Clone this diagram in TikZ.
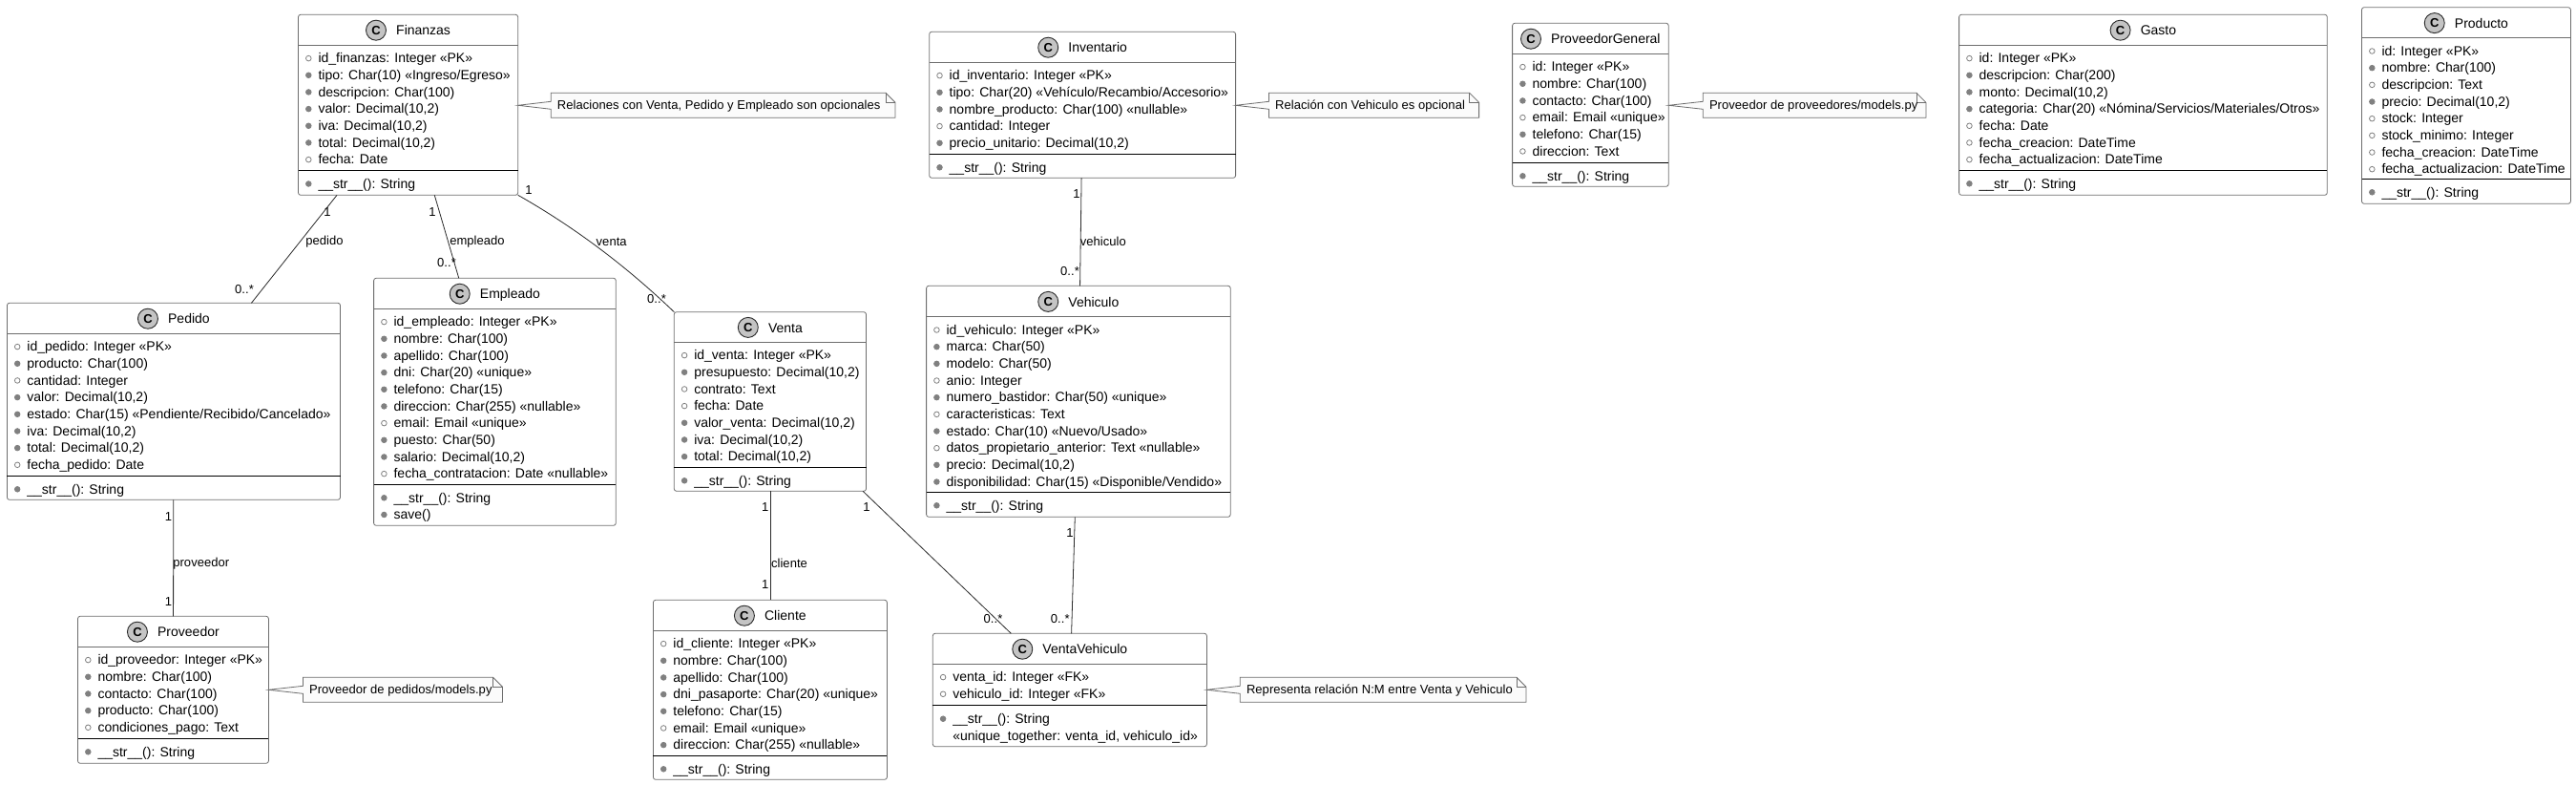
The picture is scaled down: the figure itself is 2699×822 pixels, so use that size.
\documentclass[tikz,border=0pt]{standalone}
\usepackage{fontspec}
\setmainfont{Liberation Sans}
\newfontfamily\notefont[LetterSpace=0.4]{Liberation Sans}
\definecolor{boxline}{HTML}{6E6E6E}
\definecolor{notefill}{HTML}{FBFBFB}
\definecolor{spotfill}{HTML}{C4C4C4}
\definecolor{bulletgray}{HTML}{808080}
\definecolor{inkline}{HTML}{2A2A2A}
\newcounter{umlrow}
\newcommand{\umlname}{}
\newcommand{\umlleft}{0}
\newcommand{\umlright}{0}
\newcommand{\umlnexty}{0}
% \umlclass{name}{x0}{y0}{x1}{y1}{header bottom}{member separator}{title}
\newcommand{\umlclass}[8]{%
  \setcounter{umlrow}{0}%
  \renewcommand{\umlname}{#1}%
  \renewcommand{\umlleft}{#2}%
  \renewcommand{\umlright}{#4}%
  \pgfmathsetmacro{\umlcx}{(#2+#4)/2}%
  \pgfmathsetmacro{\umlcy}{(#3+#5)/2}%
  \pgfmathsetmacro{\umlw}{#4-#2}%
  \pgfmathsetmacro{\umlh}{#5-#3}%
  \node[classbox,minimum width=\umlw pt,minimum height=\umlh pt] (#1) at (\umlcx,\umlcy) {};%
  \draw[headline] (#2,#6) -- (#4,#6);%
  \draw[sepline] (#2,#7) -- (#4,#7);%
  \pgfmathsetmacro{\umlsy}{(#3+#6)/2+0.4}%
  \node[classtitle] (#1-title) at ({\umlcx+16},{\umlsy+5.2}) {#8};%
  \node[spot,xshift=-21pt] (#1-spot) at (#1-title.base west |- 0,\umlsy) {C};%
  \pgfmathsetmacro{\umlnexty}{#6+13.8}%
  \xdef\umlnexty{\umlnexty}%
  \xdef\umlsep{#7}%
}
\newcommand{\umlmethods}{\pgfmathsetmacro{\umlnexty}{\umlsep+14}\xdef\umlnexty{\umlnexty}}
% \umlrowitem{kind}{text}: kind o = open, f = filled, n = none
\newcommand{\umlrowitem}[2]{%
  \stepcounter{umlrow}%
  \pgfmathsetmacro{\umlbx}{\umlleft+10.8}%
  \pgfmathsetmacro{\umltx}{\umlleft+20.8}%
  \if#1o\node[openbullet] (\umlname-b\theumlrow) at (\umlbx,\umlnexty) {};\fi
  \if#1f\node[fullbullet] (\umlname-b\theumlrow) at (\umlbx,\umlnexty) {};\fi
  \node[rowtext] (\umlname-r\theumlrow) at (\umltx,{\umlnexty+4.7}) {#2};%
  \pgfmathsetmacro{\umlnexty}{\umlnexty+17.67}%
  \xdef\umlnexty{\umlnexty}%
}
\newcommand{\ro}[1]{\umlrowitem{o}{#1}}
\newcommand{\rf}[1]{\umlrowitem{f}{#1}}
\newcommand{\us}{\_\kern0pt}
% \umlnote{name}{x0}{y0}{x1}{y1}{target coordinate}{text}
\newcommand{\umlnote}[7]{%
  \pgfmathsetmacro{\umlcx}{(#2+#4)/2}%
  \pgfmathsetmacro{\umlcy}{(#3+#5)/2}%
  \pgfmathsetmacro{\umlw}{#4-#2}%
  \pgfmathsetmacro{\umlh}{#5-#3}%
  \node[noteframe,minimum width=\umlw pt,minimum height=\umlh pt] (#1) at (\umlcx,\umlcy) {};%
  \draw[noteline] (#6) -- (#2,\umlcy-4) -- (#1.north west) -- (#4-10,#3) -- (#4,#3+10) -- (#1.south east) -- (#1.south west) -- (#2,\umlcy+4) -- cycle;%
  \draw[noteline,fill=none] (#4-10,#3) -- (#4-10,#3+10) -- (#4,#3+10);%
  \node[notetext] (#1-text) at ({#2+6.5},{\umlcy+4.3}) {#7};%
}
\newcommand{\titlefont}{\fontsize{14}{14}\selectfont}
\tikzset{
  classbox/.style={draw=boxline,fill=white,line width=0.8pt,rounded corners=2.5pt,inner sep=0pt,outer sep=0pt},
  headline/.style={draw=boxline,line width=0.8pt},
  sepline/.style={draw=black,line width=1pt},
  spot/.style={circle,draw=inkline,fill=spotfill,line width=0.9pt,minimum size=21pt,inner sep=0pt,font=\fontsize{13}{13}\selectfont\bfseries,text=black},
  classtitle/.style={anchor=base,inner sep=0pt,font=\titlefont,text=black},
  rowtext/.style={anchor=base west,inner sep=0pt,font=\fontsize{14}{14}\selectfont,text=black},
  openbullet/.style={circle,draw=bulletgray,fill=white,line width=0.8pt,minimum size=5.6pt,inner sep=0pt},
  fullbullet/.style={circle,draw=bulletgray,fill=bulletgray,line width=0.8pt,minimum size=5.6pt,inner sep=0pt},
  noteframe/.style={inner sep=0pt,outer sep=0pt},
  noteline/.style={draw=boxline,fill=notefill,line width=0.8pt,line join=miter},
  notetext/.style={anchor=base west,inner sep=0pt,font=\notefont\fontsize{13}{13}\selectfont,text=black},
  assoc/.style={draw=inkline,line width=0.8pt},
  lab/.style={inner sep=0pt,font=\notefont\fontsize{13}{13}\selectfont,text=black},
}
\begin{document}
\begin{tikzpicture}[x=1pt,y=-1pt]
\fill[white] (0,0) rectangle (2699,822);
\useasboundingbox (0,0) rectangle (2699,822);

\umlclass{fin}{312.5}{15.3}{542.7}{204.3}{47.3}{178.5}{Finanzas}
\ro{id\us finanzas: Integer «PK»}
\rf{tipo: Char(10) «Ingreso/Egreso»}
\rf{descripcion: Char(100)}
\rf{valor: Decimal(10,2)}
\rf{iva: Decimal(10,2)}
\rf{total: Decimal(10,2)}
\ro{fecha: Date}
\umlmethods
\rf{\us\us str\us\us (): String}

\umlclass{emp}{391.6}{291.3}{645.3}{550.3}{323.3}{507.3}{Empleado}
\ro{id\us empleado: Integer «PK»}
\rf{nombre: Char(100)}
\rf{apellido: Char(100)}
\rf{dni: Char(20) «unique»}
\rf{telefono: Char(15)}
\rf{direccion: Char(255) «nullable»}
\ro{email: Email «unique»}
\rf{puesto: Char(50)}
\rf{salario: Decimal(10,2)}
\ro{fecha\us contratacion: Date «nullable»}
\umlmethods
\rf{\us\us str\us\us (): String}
\rf{save()}

\umlclass{ped}{7.4}{317.3}{356.5}{523.3}{349.3}{498.3}{Pedido}
\ro{id\us pedido: Integer «PK»}
\rf{producto: Char(100)}
\ro{cantidad: Integer}
\rf{valor: Decimal(10,2)}
\rf{estado: Char(15) «Pendiente/Recibido/Cancelado»}
\rf{iva: Decimal(10,2)}
\rf{total: Decimal(10,2)}
\ro{fecha\us pedido: Date}
\umlmethods
\rf{\us\us str\us\us (): String}

\umlclass{prv}{81.5}{645.3}{281.4}{799.3}{677.3}{773.3}{Proveedor}
\ro{id\us proveedor: Integer «PK»}
\rf{nombre: Char(100)}
\rf{contacto: Char(100)}
\rf{producto: Char(100)}
\ro{condiciones\us pago: Text}
\umlmethods
\rf{\us\us str\us\us (): String}

\umlclass{ven}{706.3}{326.7}{907.5}{514.3}{358.3}{489.3}{Venta}
\ro{id\us venta: Integer «PK»}
\rf{presupuesto: Decimal(10,2)}
\ro{contrato: Text}
\ro{fecha: Date}
\rf{valor\us venta: Decimal(10,2)}
\rf{iva: Decimal(10,2)}
\rf{total: Decimal(10,2)}
\umlmethods
\rf{\us\us str\us\us (): String}

\umlclass{cli}{684.4}{628.3}{929.4}{816.3}{660.3}{791.3}{Cliente}
\ro{id\us cliente: Integer «PK»}
\rf{nombre: Char(100)}
\rf{apellido: Char(100)}
\rf{dni\us pasaporte: Char(20) «unique»}
\rf{telefono: Char(15)}
\ro{email: Email «unique»}
\rf{direccion: Char(255) «nullable»}
\umlmethods
\rf{\us\us str\us\us (): String}

\umlclass{veh}{970.6}{299.3}{1289.2}{541.3}{331.7}{515.3}{Vehiculo}
\ro{id\us vehiculo: Integer «PK»}
\rf{marca: Char(50)}
\rf{modelo: Char(50)}
\ro{anio: Integer}
\rf{numero\us bastidor: Char(50) «unique»}
\ro{caracteristicas: Text}
\rf{estado: Char(10) «Nuevo/Usado»}
\ro{datos\us propietario\us anterior: Text «nullable»}
\rf{precio: Decimal(10,2)}
\rf{disponibilidad: Char(15) «Disponible/Vendido»}
\umlmethods
\rf{\us\us str\us\us (): String}

\umlclass{vv}{977.3}{663.3}{1264.4}{781.7}{695.3}{738.7}{VentaVehiculo}
\ro{venta\us id: Integer «FK»}
\ro{vehiculo\us id: Integer «FK»}
\umlmethods
\rf{\us\us str\us\us (): String}
\umlrowitem{n}{«unique\us together: venta\us id, vehiculo\us id»}

\umlclass{inv}{973.7}{33.3}{1294.6}{186.3}{65.3}{161.3}{Inventario}
\ro{id\us inventario: Integer «PK»}
\rf{tipo: Char(20) «Vehículo/Recambio/Accesorio»}
\rf{nombre\us producto: Char(100) «nullable»}
\ro{cantidad: Integer}
\rf{precio\us unitario: Decimal(10,2)}
\umlmethods
\rf{\us\us str\us\us (): String}

\umlclass{pg}{1584.6}{24.3}{1748.2}{195.3}{56.3}{170.3}{ProveedorGeneral}
\ro{id: Integer «PK»}
\rf{nombre: Char(100)}
\rf{contacto: Char(100)}
\ro{email: Email «unique»}
\rf{telefono: Char(15)}
\ro{direccion: Text}
\umlmethods
\rf{\us\us str\us\us (): String}

\umlclass{gas}{2052.6}{15.3}{2438.3}{204.3}{47.3}{178.3}{Gasto}
\ro{id: Integer «PK»}
\rf{descripcion: Char(200)}
\rf{monto: Decimal(10,2)}
\rf{categoria: Char(20) «Nómina/Servicios/Materiales/Otros»}
\ro{fecha: Date}
\ro{fecha\us creacion: DateTime}
\ro{fecha\us actualizacion: DateTime}
\umlmethods
\rf{\us\us str\us\us (): String}

\umlclass{pro}{2474.5}{7.7}{2693.4}{213.3}{39.7}{187.3}{Producto}
\ro{id: Integer «PK»}
\rf{nombre: Char(100)}
\ro{descripcion: Text}
\rf{precio: Decimal(10,2)}
\ro{stock: Integer}
\ro{stock\us minimo: Integer}
\ro{fecha\us creacion: DateTime}
\ro{fecha\us actualizacion: DateTime}
\umlmethods
\rf{\us\us str\us\us (): String}

% notes, each wedge pointing at the east side of its class
\coordinate (fin-tip) at (fin.east |- 0,110.3);
\coordinate (inv-tip) at (inv.east |- 0,110.3);
\coordinate (pg-tip) at (pg.east |- 0,110.3);
\coordinate (prv-tip) at (prv.east |- 0,722.3);
\coordinate (vv-tip) at (vv.east |- 0,722.3);
\umlnote{nfin}{577.2}{97.3}{938}{123.3}{fin-tip}{Relaciones con Venta, Pedido y Empleado son opcionales}
\umlnote{ninv}{1329.5}{97.3}{1549.6}{123.3}{inv-tip}{Relación con Vehiculo es opcional}
\umlnote{npg}{1784.3}{97.3}{2017.9}{123.3}{pg-tip}{Proveedor de proveedores/models.py}
\umlnote{nprv}{317.4}{709.3}{526.5}{735.3}{prv-tip}{Proveedor de pedidos/models.py}
\umlnote{nvv}{1299.3}{709.3}{1599}{735.3}{vv-tip}{Representa relación N:M entre Venta y Vehiculo}

% associations
\draw[assoc] (fin) -- (ped);
\draw[assoc] (fin) -- (emp);
\draw[assoc] (fin.south east) .. controls +(60,34) and +(-49.5,-47.4) .. (ven.north west);
\draw[assoc] (ped) -- (prv);
\draw[assoc] (ven) -- (cli);
\draw[assoc] (ven) -- (vv);
\draw[assoc] (veh) -- (vv);
\draw[assoc] (inv) -- (veh);

% association labels
\node[lab] (l-ped) at (340,253) {pedido};
\node[lab] (l-emp) at (500,253) {empleado};
\node[lab] (l-ven) at (640.7,253) {venta};
\node[lab] (l-prv) at (210.8,590) {proveedor};
\node[lab] (l-cli) at (827,590) {cliente};
\node[lab] (l-veh) at (1155.8,252.7) {vehiculo};
\node[lab] (m1) at (343,221.7) {1};
\node[lab] (m2) at (256,303) {0..*};
\node[lab] (m3) at (453,221.7) {1};
\node[lab] (m4) at (468,275) {0..*};
\node[lab] (m5) at (554,199) {1};
\node[lab] (m6) at (688,313) {0..*};
\node[lab] (m7) at (176.5,541) {1};
\node[lab] (m8) at (176.5,630) {1};
\node[lab] (m9) at (801.8,531) {1};
\node[lab] (m10) at (801.8,612) {1};
\node[lab] (m11) at (908,531) {1};
\node[lab] (m12) at (1040.5,648) {0..*};
\node[lab] (m13) at (1120.9,558) {1};
\node[lab] (m14) at (1110.8,648) {0..*};
\node[lab] (m15) at (1128,203) {1};
\node[lab] (m16) at (1121,284) {0..*};
\end{tikzpicture}
\end{document}
